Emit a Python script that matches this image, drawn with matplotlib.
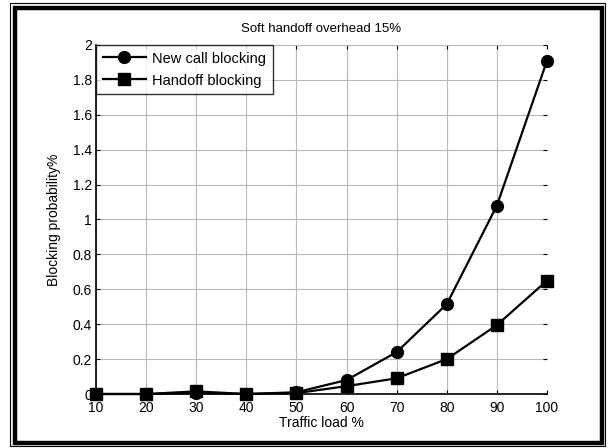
import matplotlib
matplotlib.use("Agg")
import matplotlib.pyplot as plt
from matplotlib.patches import Rectangle

plt.rcParams['font.family'] = ['Liberation Sans', 'DejaVu Sans']

traffic_load = [10, 20, 30, 40, 50, 60, 70, 80, 90, 100]
new_call_blocking = [0, 0, 0.005, 0, 0.01, 0.08, 0.24, 0.515, 1.08, 1.91]
handoff_blocking = [0, 0, 0.015, 0, 0.005, 0.045, 0.09, 0.2, 0.395, 0.65]
y_ticks = [0, 0.2, 0.4, 0.6, 0.8, 1, 1.2, 1.4, 1.6, 1.8, 2]
y_tick_labels = ['0', '0.2', '0.4', '0.6', '0.8', '1', '1.2', '1.4', '1.6', '1.8', '2']

fig = plt.figure(figsize=(6.08, 4.48), dpi=100)
ax = fig.add_axes([96/608, 1-394/448, (547-96)/608, (394-45)/448])

ax.plot(traffic_load, new_call_blocking, color='black', lw=1.6, marker='o', ms=8.5,
        label='New call blocking', zorder=3, clip_on=False)
ax.plot(traffic_load, handoff_blocking, color='black', lw=1.6, marker='s', ms=8.5,
        label='Handoff blocking', zorder=3, clip_on=False)

ax.set_xlim(10, 100)
ax.set_ylim(0, 2)
ax.set_xticks(traffic_load)
ax.set_yticks(y_ticks)
ax.set_yticklabels(y_tick_labels)
ax.grid(True, color='#b8b8b8', lw=0.8)
ax.tick_params(direction='in', length=3, width=0.8, labelsize=10, top=True, right=True,
               colors='black')
ax.tick_params(axis='x', pad=5)
ax.tick_params(axis='y', pad=3)
for s in ['top', 'right']:
    ax.spines[s].set_visible(False)
for s in ['left', 'bottom']:
    ax.spines[s].set_linewidth(1.2)

ax.set_title('Soft handoff overhead 15%', fontsize=9.5, pad=9)
ax.set_xlabel('Traffic load %', fontsize=10, labelpad=1)
ax.set_ylabel('Blocking probability%', fontsize=10, labelpad=8)

leg = ax.legend(loc='upper left', bbox_to_anchor=(0, 1), fontsize=10.5, frameon=True,
                fancybox=False, borderaxespad=0, handlelength=3.0, borderpad=0.45,
                labelspacing=0.55, handletextpad=0.4)
leg.get_frame().set_edgecolor('black')
leg.get_frame().set_linewidth(1.0)

# double frame around the figure
fig.patches.append(Rectangle((10/608, 1-446/448), (605-10)/608, (446-3)/448,
                             transform=fig.transFigure, fill=False, ec='black', lw=0.8))
fig.patches.append(Rectangle((15/608, 1-443/448), (602-15)/608, (443-8)/448,
                             transform=fig.transFigure, fill=False, ec='black', lw=3.2))

fig.savefig('out.png', dpi=100)
